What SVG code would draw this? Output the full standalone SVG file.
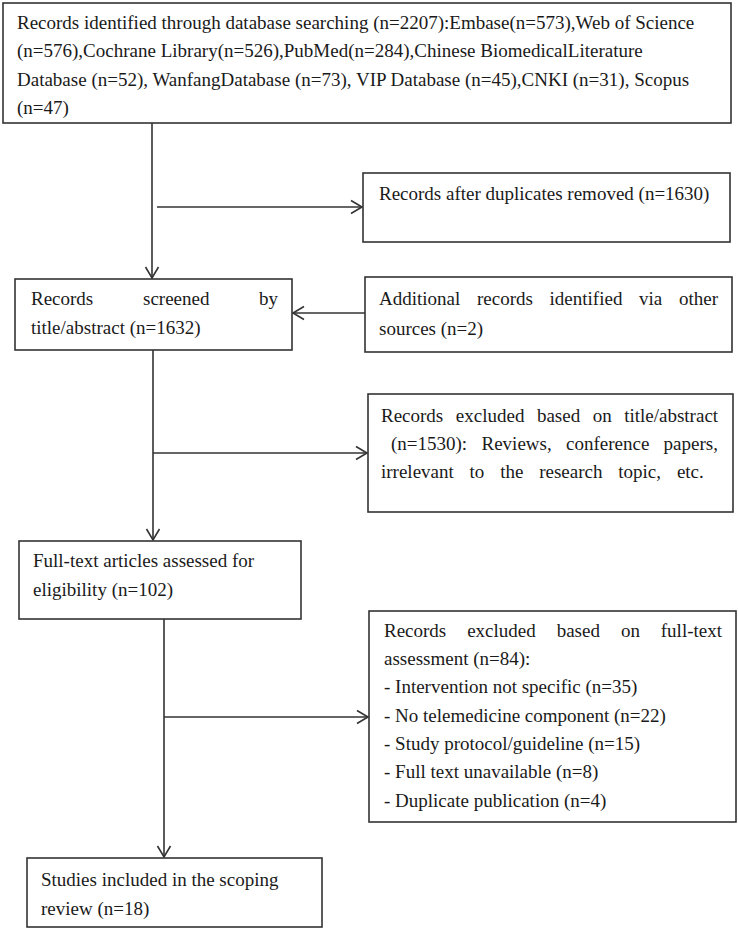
<svg xmlns="http://www.w3.org/2000/svg" width="738" height="930" viewBox="0 0 738 930">
<defs>
<style>
.box{fill:#fff;stroke:#333;stroke-width:1.6}
.t{font-family:"Liberation Serif","Times New Roman",serif;font-size:19px;fill:#1a1a1a}
.c{fill:none;stroke:#333;stroke-width:1.6}
</style>
<marker id="arr" markerUnits="userSpaceOnUse" markerWidth="14" markerHeight="16" viewBox="0 0 14 16" refX="12" refY="8" orient="auto">
<path d="M1,1.5 L12,8 L1,14.5" fill="none" stroke="#333" stroke-width="1.6"/>
</marker>
</defs>
<rect width="738" height="930" fill="#fff"/>
<g id="connectors">
<path class="c" d="M152,123 L152,278" marker-end="url(#arr)"/>
<path class="c" d="M157,207 L362,207" marker-end="url(#arr)"/>
<path class="c" d="M365,313 L293,313" marker-end="url(#arr)"/>
<path class="c" d="M153,350 L153,540" marker-end="url(#arr)"/>
<path class="c" d="M153,453 L367,453" marker-end="url(#arr)"/>
<path class="c" d="M164,619 L164,857" marker-end="url(#arr)"/>
<path class="c" d="M164,717 L368,717" marker-end="url(#arr)"/>
</g>
<g id="identified">
<rect class="box" x="3" y="3" width="728" height="120"/>
<text class="t" x="17" y="29">Records identified through database searching (n=2207):Embase(n=573),Web of Science</text>
<text class="t" x="17" y="57">(n=576),Cochrane Library(n=526),PubMed(n=284),Chinese BiomedicalLiterature</text>
<text class="t" x="17" y="86">Database (n=52), WanfangDatabase (n=73), VIP Database (n=45),CNKI (n=31), Scopus</text>
<text class="t" x="17" y="114">(n=47)</text>
</g>
<g id="duplicates">
<rect class="box" x="363" y="173" width="367" height="69"/>
<text class="t" x="379" y="200">Records after duplicates removed (n=1630)</text>
</g>
<g id="screened">
<rect class="box" x="15" y="279" width="277" height="71"/>
<text class="t" y="305"><tspan x="31">Records</tspan><tspan x="143">screened</tspan><tspan x="259">by</tspan></text>
<text class="t" x="31" y="334">title/abstract (n=1632)</text>
</g>
<g id="additional">
<rect class="box" x="365" y="277" width="367" height="75"/>
<text class="t" y="305"><tspan x="379">Additional</tspan><tspan x="477">records</tspan><tspan x="549.6">identified</tspan><tspan x="639.1">via</tspan><tspan x="679">other</tspan></text>
<text class="t" x="379" y="335">sources (n=2)</text>
</g>
<g id="excluded-title">
<rect class="box" x="368" y="394" width="365" height="118"/>
<text class="t" y="422"><tspan x="381">Records</tspan><tspan x="455.8">excluded</tspan><tspan x="536.9">based</tspan><tspan x="592.7">on</tspan><tspan x="624.2">title/abstract</tspan></text>
<text class="t" y="450"><tspan x="391">(n=1530):</tspan><tspan x="481.5">Reviews,</tspan><tspan x="566">conference</tspan><tspan x="663.6">papers,</tspan></text>
<text class="t" y="478"><tspan x="381">irrelevant</tspan><tspan x="469.6">to</tspan><tspan x="500.2">the</tspan><tspan x="539.2">research</tspan><tspan x="618.3">topic,</tspan><tspan x="676.9">etc.</tspan></text>
</g>
<g id="fulltext">
<rect class="box" x="19" y="541" width="282" height="78"/>
<text class="t" x="33" y="567">Full-text articles assessed for</text>
<text class="t" x="33" y="596">eligibility (n=102)</text>
</g>
<g id="excluded-fulltext">
<rect class="box" x="369" y="611" width="367" height="211"/>
<text class="t" y="637"><tspan x="384">Records</tspan><tspan x="467.2">excluded</tspan><tspan x="556.7">based</tspan><tspan x="620.9">on</tspan><tspan x="660.8">full-text</tspan></text>
<text class="t" x="384" y="665">assessment (n=84):</text>
<text class="t" x="384" y="693">- Intervention not specific (n=35)</text>
<text class="t" x="384" y="722">- No telemedicine component (n=22)</text>
<text class="t" x="384" y="750">- Study protocol/guideline (n=15)</text>
<text class="t" x="384" y="778">- Full text unavailable (n=8)</text>
<text class="t" x="384" y="807">- Duplicate publication (n=4)</text>
</g>
<g id="included">
<rect class="box" x="27" y="858" width="295" height="69"/>
<text class="t" x="41" y="886">Studies included in the scoping</text>
<text class="t" x="41" y="915">review (n=18)</text>
</g>
</svg>
